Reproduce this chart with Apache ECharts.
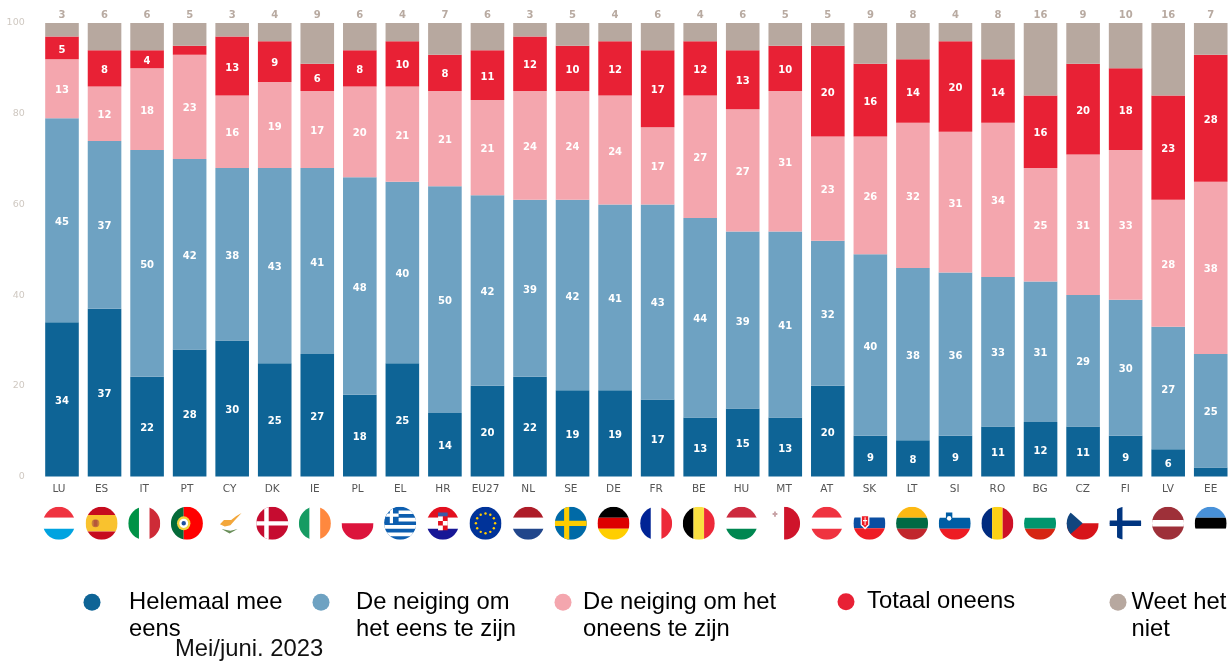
<!DOCTYPE html>
<html><head><meta charset="utf-8">
<style>html,body{margin:0;padding:0;background:#fff}#c{width:1232px;height:663px}</style>
<script src="https://cdn.jsdelivr.net/npm/echarts@6/dist/echarts.min.js"></script>
</head><body><div id="c"></div>
<script>
const categories = ['LU','ES','IT','PT','CY','DK','IE','PL','EL','HR','EU27','NL','SE','DE','FR','BE','HU','MT','AT','SK','LT','SI','RO','BG','CZ','FI','LV','EE'];
const helemaal = [34,37,22,28,30,25,27,18,25,14,20,22,19,19,17,13,15,13,20,9,8,9,11,12,11,9,6,2];
const neigingEens = [45,37,50,42,38,43,41,48,40,50,42,39,42,41,43,44,39,41,32,40,38,36,33,31,29,30,27,25];
const neigingOneens = [13,12,18,23,16,19,17,20,21,21,21,24,24,24,17,27,27,31,23,26,32,31,34,25,31,33,28,38];
const totaalOneens = [5,8,4,2,13,9,6,8,10,8,11,12,10,12,17,12,13,10,20,16,14,20,14,16,20,18,23,28];
const weetNiet = [3,6,6,5,3,4,9,6,4,7,6,3,5,4,6,4,6,5,5,9,8,4,8,16,9,10,16,7];
const seriesNames = ['Helemaal mee\neens','De neiging om\nhet eens te zijn','De neiging om het\noneens te zijn','Totaal oneens','Weet het\nniet'];
const yTicks = [0,20,40,60,80,100];
const dateLabel = 'Mei/juni. 2023';

const colors = ['#0e6496','#6ea2c2','#f4a6ae','#e82135','#b7a89f'];
const R = 16.5;
// flag drawings in unit-circle coordinates
const h3 = (a,b,c,t=-0.33,u=0.33)=>[['r',-1,-1,1,t,a],['r',-1,t,1,u,b],['r',-1,u,1,1,c]];
const v3 = (a,b,c,t=-0.33,u=0.33)=>[['r',-1,-1,t,1,a],['r',t,-1,u,1,b],['r',u,-1,1,1,c]];
const W = '#ffffff';
const flags = {
  LU: h3('#ef3340',W,'#00a3e0'),
  ES: [...h3('#c60b1e','#f9c22e','#c60b1e',-0.5,0.5),['c',-0.38,0,0.24,'#c8803c'],['r',-0.5,-0.2,-0.26,0.2,'#b5573a']],
  IT: v3('#009246',W,'#ce2b37'),
  PT: [['r',-1,-1,-0.2,1,'#046a38'],['r',-0.2,-1,1,1,'#ff0000'],['c',-0.2,0,0.42,'#f4d23c'],['c',-0.2,0,0.28,W],['c',-0.2,0,0.14,'#1f4fa0']],
  CY: [['p',[[-0.6,0.05],[-0.35,-0.2],[0.1,-0.2],[0.4,-0.42],[0.75,-0.62],[0.3,-0.15],[0.05,0.12],[-0.3,0.2]],'#f3a73b'],['p',[[-0.5,0.35],[0,0.62],[0.5,0.35],[0.05,0.45]],'#6a8f5a']],
  DK: [['r',-1,-1,1,1,'#c60c30'],['r',-0.5,-1,-0.22,1,W],['r',-1,-0.13,1,0.13,W]],
  IE: v3('#169b62',W,'#ff883e'),
  PL: [['r',-1,0,1,1,'#dc143c']],
  EL: [['r',-1,-1,1,1,'#0d5eaf'],['r',-1,-0.78,1,-0.56,W],['r',-1,-0.33,1,-0.11,W],['r',-1,0.11,1,0.33,W],['r',-1,0.56,1,0.78,W],['r',-1,-1,-0.1,0,'#0d5eaf'],['r',-0.65,-1,-0.45,0,W],['r',-1,-0.6,-0.1,-0.4,W]],
  HR: [...h3('#e3101f',W,'#171796'),['r',-0.3,-0.42,0.3,0.42,'#e3101f'],['r',-0.3,-0.42,0,-0.14,W],['r',0,-0.14,0.3,0.14,W],['r',-0.3,0.14,0,0.42,W],['r',-0.3,-0.65,0.3,-0.42,'#3a5ca8']],
  EU27: [['r',-1,-1,1,1,'#003399'],...[0,1,2,3,4,5,6,7,8,9,10,11].map(k=>['c',0.6*Math.cos(k*Math.PI/6),0.6*Math.sin(k*Math.PI/6),0.075,'#ffcc00'])],
  NL: h3('#ae1c28',W,'#21468b'),
  SE: [['r',-1,-1,1,1,'#006aa7'],['r',-0.42,-1,-0.1,1,'#fecc00'],['r',-1,-0.16,1,0.16,'#fecc00']],
  DE: h3('#000000','#dd0000','#ffce00'),
  FR: v3('#002395',W,'#ed2939'),
  BE: v3('#000000','#fae042','#ed2939'),
  HU: h3('#cd2a3e',W,'#008751'),
  MT: [['r',0,-1,1,1,'#cf142b'],['r',-0.72,-0.62,-0.42,-0.5,'#c9a5a8'],['r',-0.63,-0.72,-0.51,-0.4,'#c9a5a8']],
  AT: h3('#ef3340',W,'#ef3340'),
  SK: [...h3(W,'#0b4ea2','#ee1c25',-0.35,0.3),['p',[[-0.55,-0.5],[0,-0.5],[0,0.1],[-0.27,0.38],[-0.55,0.1]],W],['p',[[-0.47,-0.42],[-0.08,-0.42],[-0.08,0.05],[-0.27,0.26],[-0.47,0.05]],'#ee1c25'],['r',-0.3,-0.36,-0.24,0.1,W],['r',-0.4,-0.2,-0.14,-0.12,W]],
  LT: h3('#fdb913','#006a44','#c1272d'),
  SI: [...h3(W,'#005da4','#ed1c24',-0.33,0.33),['p',[[-0.55,-0.65],[-0.15,-0.65],[-0.15,-0.15],[-0.35,0.03],[-0.55,-0.15]],'#005da4'],['c',-0.35,-0.3,0.14,W]],
  RO: v3('#002b7f','#fcd116','#ce1126'),
  BG: h3(W,'#00966e','#d62612'),
  CZ: [['r',-1,0,1,1,'#d7141a'],['p',[[-1.1,-0.95],[0,0],[-1.1,0.95]],'#11457e']],
  FI: [['r',-0.52,-1,-0.18,1,'#003580'],['r',-1,-0.17,1,0.17,'#003580']],
  LV: [['r',-1,-1,1,1,'#9e3039'],['r',-1,-0.2,1,0.2,W]],
  EE: h3('#4891d9','#000000',W,-0.33,0.33)
};
function flagChildren(code){
  return flags[code].map(s=>{
    if(s[0]==='r') return {type:'rect',shape:{x:s[1]*R,y:s[2]*R,width:(s[3]-s[1])*R,height:(s[4]-s[2])*R},style:{fill:s[5]}};
    if(s[0]==='c') return {type:'circle',shape:{cx:s[1]*R,cy:s[2]*R,r:s[3]*R},style:{fill:s[4]}};
    return {type:'polygon',shape:{points:s[1].map(p=>[p[0]*R,p[1]*R])},style:{fill:s[2]}};
  });
}
const valueSets = [helemaal,neigingEens,neigingOneens,totaalOneens,weetNiet];
const barSeries = valueSets.map((vals,i)=>({
  name: seriesNames[i], type:'bar', stack:'total', barWidth:33.6, data:vals,
  itemStyle:{color:colors[i]},
  label: i===4
    ? {show:true,position:'top',distance:3,color:'#b8aaa1',fontFamily:'DejaVu Sans',fontSize:10,fontWeight:'bold'}
    : {show:true,position:'inside',offset:[0,2],color:'#fff',fontFamily:'DejaVu Sans',fontSize:10,fontWeight:'bold',
       formatter:p=>p.value>2?String(p.value):''}
}));
// labels and flags sit on their own slightly wider category scale, as in the reference
const flagSeries = {
  type:'custom', silent:true, z:5, clip:false, xAxisIndex:1, yAxisIndex:1,
  data: categories.map((c,i)=>[i,0]),
  encode:{x:0,y:1},
  renderItem:(params,api)=>{
    const pt = api.coord([api.value(0),0]);
    return {type:'group',x:pt[0],y:pt[1]+46.8,scaleX:0.97,
      clipPath:{type:'circle',shape:{cx:0,cy:0,r:R}},
      children:flagChildren(categories[params.dataIndex])};
  }
};
// one legend per item: [centre x, gap to text, multi-line]
const legendLayout = [[92,23.5,1],[321,21.5,1],[563,6.5,1],[846,7.5,0],[1118,0,1]];
const legends = seriesNames.map((n,i)=>{
  const L = legendLayout[i], multi = L[2];
  return {
    show:true, data:[n], selectedMode:false, orient:'horizontal',
    left:L[0]-8.5, top: multi ? 561 : 588, padding:0, icon:'circle', itemWidth:17, itemHeight:17,
    formatter: multi ? '\n{name}' : '{name}',
    textStyle:{fontFamily:'Liberation Sans',fontSize:23.8,color:'#000',lineHeight:27.5,padding:[0,0,0,L[1]]}
  };
});
const chart = echarts.init(document.getElementById('c'),null,{renderer:'canvas'});
chart.setOption({
  animation:false, backgroundColor:'#fff',
  grid:[{left:40.72,right:-0.3,top:23,bottom:186.5},{left:37.62,right:-2.9,top:23,bottom:186.5}],
  xAxis:[
    {type:'category',gridIndex:0,data:categories,axisLine:{show:false},axisTick:{show:false},axisLabel:{show:false}},
    {type:'category',gridIndex:1,data:categories,axisLine:{show:false},axisTick:{show:false},
     axisLabel:{interval:0,margin:7,color:'#555',fontFamily:'DejaVu Sans',fontSize:10.5}}
  ],
  yAxis:[
    {type:'value',gridIndex:0,min:yTicks[0],max:yTicks[yTicks.length-1],interval:20,splitLine:{show:false},axisLine:{show:false},axisTick:{show:false},
     axisLabel:{margin:16,color:'#cfc8c1',fontFamily:'DejaVu Sans',fontSize:9.5,padding:[2,0,0,0]}},
    {type:'value',gridIndex:1,min:yTicks[0],max:yTicks[yTicks.length-1],interval:20,show:false,splitLine:{show:false}}
  ],
  legend:legends,
  title:{text:dateLabel,left:175,top:637,padding:0,textStyle:{fontFamily:'Liberation Sans',fontSize:23.8,fontWeight:'normal',color:'#111'}},
  series:[...barSeries,flagSeries]
});
</script></body></html>
